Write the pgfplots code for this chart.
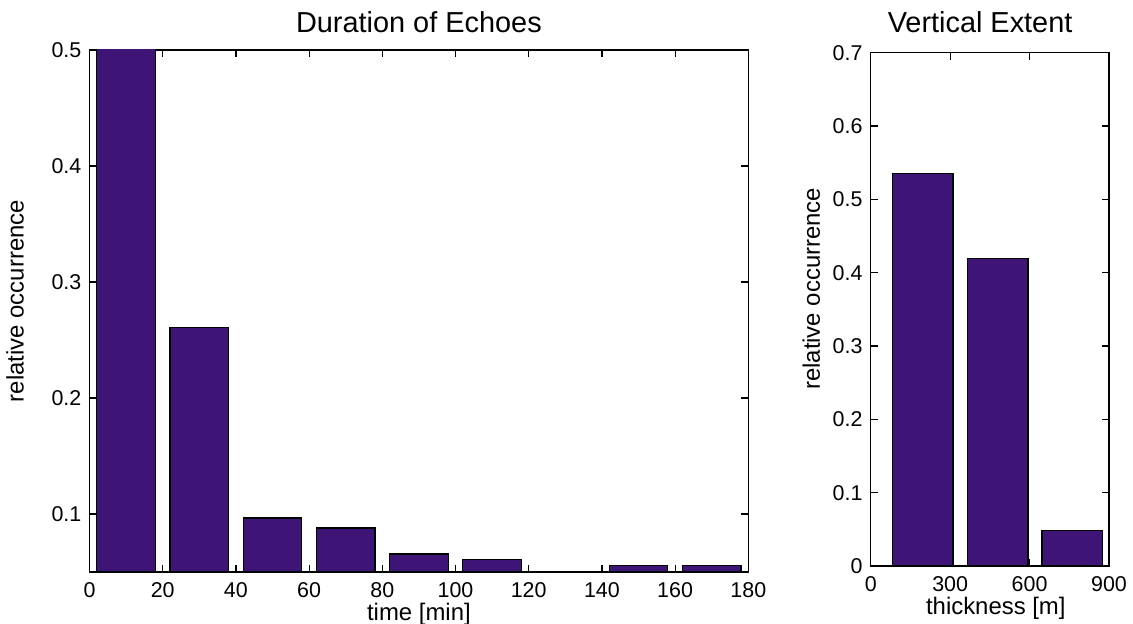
\documentclass[border=0pt]{standalone}
\usepackage{fontspec}
\setmainfont{Liberation Sans}
\usepackage{pgfplots}
\pgfplotsset{compat=1.18}
\definecolor{BarPurple}{HTML}{3E1476}

\pgfplotsset{
  matlab/.style={
    scale only axis,
    axis line style={line width=1.5bp},
    tick style={line width=1.2bp, black},
    major tick length=7bp,
    tick align=inside,
    xtick pos=both, ytick pos=both,
    ticklabel style={font=\fontsize{21.5}{24}\selectfont, inner sep=0pt},
    /pgf/number format/assume math mode=true,
    xticklabel style={anchor=north, yshift=-10bp},
    yticklabel style={anchor=east, xshift=-8bp},
    label style={font=\fontsize{24}{27}\selectfont, inner sep=0pt},
    xlabel style={anchor=base},
    ylabel style={anchor=base},
    title style={font=\fontsize{29}{32}\selectfont, inner sep=0pt, anchor=base},
    clip=true,
  },
  bars/.style={ybar, fill=BarPurple, draw=black, line width=1.2bp},
}

\begin{document}
\begin{tikzpicture}[x=1bp,y=1bp]
\useasboundingbox (0,0) rectangle (1133,624);

\begin{axis}[matlab,
  at={(89.5bp,52bp)}, anchor=south west,
  width=658.8bp, height=522bp,
  xmin=0, xmax=180, ymin=0.05, ymax=0.5,
  xtick={0,20,...,180},
  ytick={0.1,0.2,0.3,0.4,0.5},
  yticklabel style={/pgf/number format/.cd,fixed,precision=1,fixed zerofill},
  title={Duration of Echoes},
  title style={at={(axis description cs:0.5,1.023)}},
  xlabel={time [min]},
  xlabel style={at={(axis description cs:0.5,-0.093)}},
  ylabel={relative occurrence},
  ylabel style={at={(axis description cs:-0.1,0.519)}},
]
\addplot[bars, bar width=16] coordinates {
  (10,0.62) (30,0.261) (50,0.0966) (70,0.088) (90,0.0655)
  (110,0.0606) (130,0.045) (150,0.0555) (170,0.0555)};
\end{axis}

\begin{axis}[matlab,
  at={(870.7bp,58bp)}, anchor=south west,
  width=238.3bp, height=513.3bp,
  xmin=0, xmax=900, ymin=0, ymax=0.7,
  xtick={0,300,600,900},
  ytick={0,0.1,...,0.7},
  yticklabel style={/pgf/number format/.cd,fixed,precision=1},
  title={Vertical Extent},
  title style={at={(axis description cs:0.459,1.028)}},
  xlabel={thickness [m]},
  xlabel style={at={(axis description cs:0.525,-0.094)}},
  ylabel={relative occurrence},
  ylabel style={at={(axis description cs:-0.213,0.54)}},
]
\addplot[bars, bar width=228] coordinates {
  (197,0.5357) (480,0.419) (761,0.048)};
\end{axis}
\end{tikzpicture}
\end{document}
